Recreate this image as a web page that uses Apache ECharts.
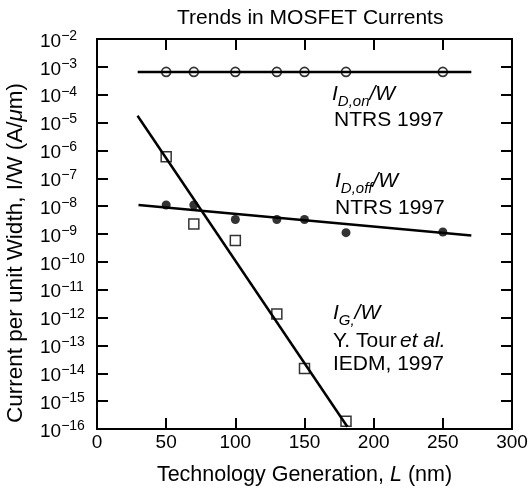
<!DOCTYPE html>
<html>
<head>
<meta charset="utf-8">
<script src="https://cdn.jsdelivr.net/npm/echarts/dist/echarts.min.js"></script>
<style>
html,body{margin:0;padding:0;background:#fff;}
#chart{width:532px;height:491px;}
</style>
</head>
<body>
<div id="chart"></div>
<script>
// points (L in nm, I/W in A/um)
var onL = [50, 70, 100, 130, 150, 180, 250];
var onVal = [6.6e-4, 6.6e-4, 6.6e-4, 6.6e-4, 6.6e-4, 6.6e-4, 6.6e-4];
var offL = [50, 70, 100, 130, 150, 180, 250];
var offVal = [1.1e-8, 1.1e-8, 3.3e-9, 3.3e-9, 3.3e-9, 1.12e-9, 1.18e-9];
var gateL = [50, 70, 100, 130, 150, 180];
var gateVal = [5.9e-7, 2.3e-9, 5.9e-10, 1.35e-12, 1.5e-14, 1.9e-16];

// end points of the drawn trend lines
var onFitL = [29.4, 270.6];
var onFit = [6.6e-4, 6.6e-4];
var offFitL = [30, 270.6];
var offFit = [1.1e-8, 8.9e-10];
var gateFitL = [29.3, 181];
var gateFit = [1.75e-5, 1.2e-16];

function pairs(xs, ys) {
    var out = [];
    for (var i = 0; i < xs.length; i++) out.push([xs[i], ys[i]]);
    return out;
}

var FONT = '"Liberation Sans", Arial, Helvetica, sans-serif';

var myChart = echarts.init(document.getElementById('chart'));

function axisBase(extra) {
    return Object.assign({
        axisLine: {show: true, onZero: false, lineStyle: {color: '#000', width: 2}},
        axisTick: {show: true, inside: true, length: 11, lineStyle: {color: '#000', width: 2}},
        splitLine: {show: false}
    }, extra);
}

// plain text pieces for the annotations (subscripts set lower and smaller)
function txt(x, y, s, size, italic) {
    return {type: 'text', x: x, y: y, style: {
        text: s, fill: '#000', align: 'left', verticalAlign: 'middle',
        font: (italic ? 'italic ' : '') + size + 'px ' + FONT
    }};
}

var option = {
    backgroundColor: '#fff',
    animation: false,
    title: {
        text: 'Trends in MOSFET Currents',
        left: 172,
        top: 3,
        textStyle: {fontFamily: FONT, fontSize: 21, fontWeight: 'normal', color: '#000'}
    },
    grid: {left: 97, right: 20, top: 39, bottom: 57, show: true, borderColor: '#000', borderWidth: 2},
    xAxis: [
        axisBase({
            type: 'value', min: 0, max: 300, interval: 50,
            position: 'bottom',
            name: 'Technology Generation, {it|L} (nm)',
            nameLocation: 'middle',
            nameGap: 35,
            nameTextStyle: {
                fontSize: 21.5, color: '#000',
                rich: {it: {fontSize: 21.5, fontStyle: 'italic', color: '#000'}}
            },
            axisLabel: {margin: 4, color: '#000', fontSize: 19}
        }),
        axisBase({
            type: 'value', min: 0, max: 300, interval: 50,
            position: 'top',
            axisLabel: {show: false}
        })
    ],
    yAxis: [
        axisBase({
            type: 'log', min: 1e-16, max: 1e-2, interval: 1,
            position: 'left',
            axisLabel: {
                margin: 57,
                align: 'left',
                formatter: function (v) {
                    var e = Math.round(Math.log(v) / Math.LN10);
                    return '{b|10}{s|' + (e < 0 ? '\u2212' : '') + Math.abs(e) + '}';
                },
                rich: {
                    b: {fontSize: 19, lineHeight: 20, padding: [3, 0, 0, 0], verticalAlign: 'top', color: '#000'},
                    s: {fontSize: 14, lineHeight: 13, verticalAlign: 'top', color: '#000'}
                }
            }
        }),
        axisBase({
            type: 'log', min: 1e-16, max: 1e-2, interval: 1,
            position: 'right',
            axisLabel: {show: false}
        })
    ],
    graphic: [
        {type: 'text', x: 16, y: 253, rotation: Math.PI / 2, style: {
            text: '{n|Current per unit Width, I/W (A/}{it|\u03bc}{n|m)}',
            align: 'center', verticalAlign: 'middle', fill: '#000',
            rich: {
                n: {fontFamily: FONT, fontSize: 22.5},
                it: {fontFamily: FONT, fontSize: 22.5, fontStyle: 'italic'}
            }}},
        txt(332, 94.5, 'I', 21, true), txt(337.8, 101.5, 'D,on', 15, true), txt(369.5, 94.5, '/W', 21, true),
        txt(334, 120.5, 'NTRS 1997', 21, false),
        txt(335, 181.5, 'I', 21, true), txt(340.8, 188.5, 'D,off', 15, true), txt(372.5, 181.5, '/W', 21, true),
        txt(335, 208.5, 'NTRS 1997', 21, false),
        txt(333, 313.5, 'I', 21, true), txt(338.8, 320.5, 'G,', 15, true), txt(354.6, 313.5, '/W', 21, true),
        txt(333, 341.5, 'Y. Tour', 21, false), txt(400, 341.5, 'et al.', 21, true),
        txt(333, 364.5, 'IEDM, 1997', 21, false)
    ],
    series: [
        {type: 'line', data: pairs(onFitL, onFit), showSymbol: false, symbol: 'none',
         lineStyle: {color: '#000', width: 2.5}},
        {type: 'line', data: pairs(offFitL, offFit), showSymbol: false, symbol: 'none',
         lineStyle: {color: '#000', width: 2.5}},
        {type: 'line', data: pairs(gateFitL, gateFit), showSymbol: false, symbol: 'none',
         lineStyle: {color: '#000', width: 2.5}},
        {type: 'scatter', data: pairs(onL, onVal), symbol: 'circle', symbolSize: 9,
         itemStyle: {color: '#fff', borderColor: '#000', borderWidth: 1.6}},
        {type: 'scatter', data: pairs(offL, offVal), symbol: 'circle', symbolSize: 9,
         itemStyle: {color: '#000', borderColor: '#000', borderWidth: 0}},
        {type: 'scatter', data: pairs(gateL, gateVal), symbol: 'rect', symbolSize: 10,
         itemStyle: {color: '#fff', borderColor: '#000', borderWidth: 1.5}}
    ]
};

myChart.setOption(option);
</script>
</body>
</html>
